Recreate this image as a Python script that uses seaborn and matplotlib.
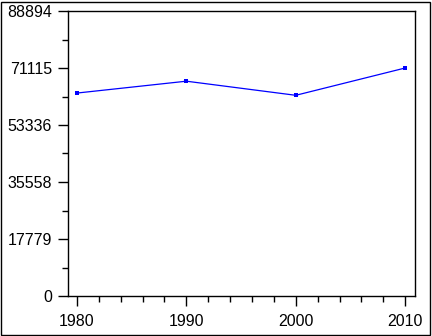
import matplotlib
matplotlib.use("Agg")
import matplotlib.pyplot as plt
import seaborn as sns
import pandas as pd
from matplotlib.ticker import FixedLocator, MultipleLocator

years = [1980, 1990, 2000, 2010]
values = [63300, 67000, 62600, 71115]
ytick_vals = [0, 17779, 35558, 53336, 71115, 88894]
ytick_labels = ["0", "17779", "35558", "53336", "71115", "88894"]
xtick_vals = [1980, 1990, 2000, 2010]

sns.set_style("ticks")
plt.rcParams['font.family'] = ['Liberation Sans', 'DejaVu Sans']

df = pd.DataFrame({"year": years, "value": values})

fig = plt.figure(figsize=(4.32, 3.36), dpi=100)
ax = fig.add_axes([68/432, 40/336, (415-68)/432, (296-11)/336])

sns.lineplot(data=df, x="year", y="value", ax=ax, color="#0000FF",
             linewidth=0.9, marker="s", markersize=3.5, markeredgewidth=0,
             markerfacecolor="#0000FF")

ax.set_xlim(1979.18, 2010.9)
ax.set_ylim(0, 88894)
ax.set_xticks(xtick_vals)
ax.set_xticklabels([str(y) for y in xtick_vals])
ax.xaxis.set_minor_locator(MultipleLocator(2))
ax.set_yticks(ytick_vals)
ax.set_yticklabels(ytick_labels)
ax.yaxis.set_minor_locator(FixedLocator([88894 / 10 * k for k in range(1, 10, 2)]))
ax.set_xlabel("")
ax.set_ylabel("")

for s in ax.spines.values():
    s.set_visible(True)
    s.set_color("black")
    s.set_linewidth(1.0)

ax.tick_params(axis="both", which="major", length=7, width=1, color="black",
               labelsize=11.5, labelcolor="black")
ax.tick_params(axis="both", which="minor", length=4, width=1, color="black")
ax.tick_params(axis="y", which="major", pad=4.5)
ax.tick_params(axis="x", which="major", pad=6)

fig.patches.append(plt.Rectangle((1/432, 1/336), 429/432, 333/336,
                                 transform=fig.transFigure, fill=False,
                                 edgecolor="black", linewidth=1.0))

fig.savefig("out.png", dpi=100, facecolor="white")
